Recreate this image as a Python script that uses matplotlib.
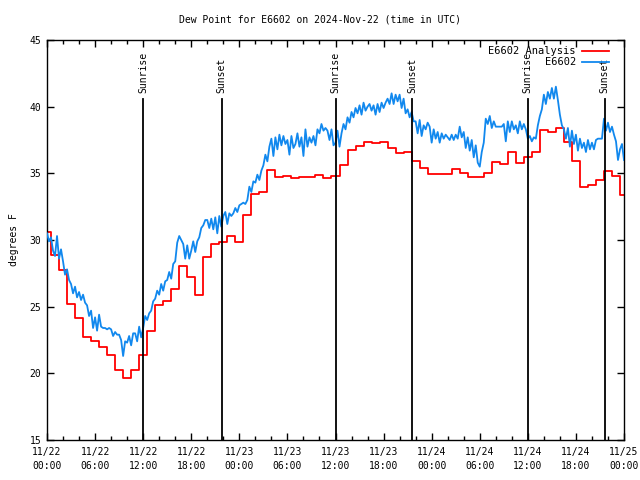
import matplotlib
matplotlib.use("Agg")
import matplotlib.pyplot as plt
import numpy as np

# ===== Data (hours since 2024-11-22 00:00 UTC, degrees F) =====
# hourly analysis values, h = 0..72
analysis = [30.58, 28.88, 27.75, 25.17, 24.13, 22.75, 22.45, 21.95, 21.40, 20.22,
            19.62, 20.22, 21.37, 23.17, 25.10, 25.43, 26.32, 28.05, 27.20, 25.85,
            28.74, 29.73, 29.84, 30.28, 29.85, 31.86, 33.45, 33.58, 35.22, 34.72,
            34.78, 34.65, 34.70, 34.70, 34.85, 34.65, 34.78, 35.60, 36.74, 37.05,
            37.33, 37.27, 37.34, 36.92, 36.53, 36.63, 35.94, 35.42, 34.95, 34.95,
            34.95, 35.30, 35.00, 34.72, 34.72, 35.00, 35.86, 35.70, 36.57, 35.77,
            36.19, 36.60, 38.25, 38.12, 38.39, 37.36, 35.90, 33.97, 34.12, 34.53,
            35.15, 34.83, 33.38]

# station observations every 15 minutes, h = 0..72
observed = [
    30.5, 29.9, 30.2, 29.2,  28.8, 30.3, 28.6, 29.3,  28.4, 27.4, 27.8, 27.0,
    26.7, 26.0, 26.5, 25.7,  26.1, 25.5, 25.9, 25.3,  25.1, 24.3, 24.7, 23.4,
    24.2, 23.2, 24.4, 23.5,  23.4, 23.4, 23.3, 23.4,  23.3, 22.8, 23.1, 22.9,
    22.9, 22.5, 21.3, 22.4,  22.3, 22.8, 22.1, 23.0,  23.0, 22.4, 23.5, 22.7,
    23.4, 24.3, 24.0, 24.5,  24.7, 25.4, 25.6, 26.2,  25.9, 26.7, 26.2, 26.9,
    27.0, 27.6, 27.1, 28.2,  28.4, 29.8, 30.3, 30.0,  29.7, 28.6, 29.6, 28.6,
    29.2, 29.9, 29.1, 29.9,  30.2, 30.9, 31.1, 31.5,  31.5, 30.9, 31.6, 30.8,
    31.7, 30.5, 31.8, 31.0,  31.8, 32.1, 31.2, 32.0,  31.8, 32.0, 32.4, 32.1,
    32.6, 32.7, 32.8, 32.7,  33.0, 34.0, 33.6, 34.4,  34.3, 34.9, 34.5, 35.2,
    35.6, 36.4, 35.9, 37.0,  37.6, 36.3, 37.7, 36.8,  37.9, 37.1, 37.8, 37.2,
    37.5, 36.4, 37.8, 36.9,  37.2, 38.0, 37.0, 37.7,  36.3, 38.3, 37.0, 37.7,
    37.3, 37.8, 37.1, 38.3,  38.0, 38.7, 38.2, 38.4,  38.2, 37.5, 38.3, 37.1,
    37.3, 38.2, 37.0, 38.0,  38.7, 38.3, 39.2, 38.8,  39.6, 39.2, 39.9, 39.5,
    40.1, 39.4, 40.3, 39.7,  40.0, 40.2, 39.7, 40.1,  39.4, 40.2, 39.6, 40.3,
    39.9, 40.3, 40.6, 40.2,  41.0, 40.2, 40.9, 40.4,  40.9, 39.9, 40.6, 39.5,
    39.8, 39.2, 39.6, 38.9,  38.9, 38.0, 39.0, 37.8,  38.6, 38.3, 38.8, 38.5,
    37.3, 38.3, 37.6, 38.1,  37.3, 38.0, 37.6, 37.9,  37.7, 37.5, 37.9, 37.5,
    37.9, 37.6, 38.5, 37.7,  38.1, 36.9, 37.7, 36.7,  37.5, 36.2, 37.1, 35.8,
    35.5, 36.6, 37.3, 39.1,  38.7, 39.3, 38.4, 38.9,  38.5, 38.5, 38.5, 38.5,
    38.7, 37.4, 38.9, 38.1,  38.9, 38.3, 38.6, 38.0,  38.9, 38.3, 38.7, 38.3,
    37.6, 37.8, 37.4, 37.7,  37.6, 38.6, 39.3, 39.8,  40.9, 40.2, 41.1, 40.6,
    41.4, 40.6, 41.5, 40.5,  39.4, 38.6, 38.3, 37.6,  38.4, 37.0, 38.2, 37.2,
    37.9, 36.7, 37.6, 36.9,  37.3, 36.6, 37.5, 36.8,  37.3, 36.8, 37.5, 37.6,
    37.6, 37.6, 39.1, 38.2,  38.8, 38.1, 38.5, 37.9,  37.4, 36.0, 36.8, 37.2,
    36.0]

sun_times = [12.0, 21.8, 36.0, 45.6, 60.0, 69.6]
sun_labels = ["Sunrise", "Sunset", "Sunrise", "Sunset", "Sunrise", "Sunset"]

tick_hours = np.arange(0, 73, 6)
tick_labels = ["11/22\n00:00", "11/22\n06:00", "11/22\n12:00", "11/22\n18:00",
               "11/23\n00:00", "11/23\n06:00", "11/23\n12:00", "11/23\n18:00",
               "11/24\n00:00", "11/24\n06:00", "11/24\n12:00", "11/24\n18:00",
               "11/25\n00:00"]

# ===== Plot styling =====
plt.rcParams['font.family'] = ['DejaVu Sans Mono']
font_size = 7

fig = plt.figure(figsize=(6.4, 4.8), dpi=100)
ax = fig.add_axes([47 / 640, 40 / 480, 577 / 640, 400 / 480])

t_an = np.arange(len(analysis))
t_ob = np.arange(len(observed)) * 0.25

ax.plot(t_an, analysis, color="#ff0000", linewidth=1.3, drawstyle="steps-mid",
        label="E6602 Analysis", zorder=2)
ax.plot(t_ob, observed, color="#1188ee", linewidth=1.3, label="E6602", zorder=3)

# ===== Sunrise / sunset markers =====
for t, lab in zip(sun_times, sun_labels):
    ax.plot([t, t], [15, 40.6], color="black", linewidth=1.3, zorder=4)
    ax.text(t, 41.0, lab, rotation=90, ha="center", va="bottom",
            fontsize=font_size, zorder=4)

# ===== Axes =====
ax.set_xlim(0, 72)
ax.set_ylim(15, 45)
ax.set_xticks(tick_hours)
ax.set_xticklabels(tick_labels, fontsize=font_size, linespacing=1.5)
ax.set_xticks(np.arange(0, 73, 2), minor=True)
ax.set_yticks(np.arange(15, 46, 5))
ax.set_yticklabels([str(v) for v in range(15, 46, 5)], fontsize=font_size)
ax.tick_params(axis="both", which="both", direction="in", top=True, right=True,
               width=1.0)
ax.tick_params(axis="x", which="major", length=5, pad=5)
ax.tick_params(axis="y", which="major", length=5, pad=4)
ax.tick_params(axis="both", which="minor", length=3)
for spine in ax.spines.values():
    spine.set_linewidth(1.0)

ax.set_ylabel("degrees F", fontsize=font_size, labelpad=8)
fig.text(0.5, 1 - 19 / 480, "Dew Point for E6602 on 2024-Nov-22 (time in UTC)",
         ha="center", va="center", fontsize=font_size)

# ===== Legend =====
ax.legend(loc="upper right", frameon=False, markerfirst=False, fontsize=font_size + 0.5,
          handlelength=2.6, handletextpad=0.6, labelspacing=0.1,
          borderaxespad=0.2, bbox_to_anchor=(0.985, 1.0))

plt.savefig("out.png", dpi=100)
